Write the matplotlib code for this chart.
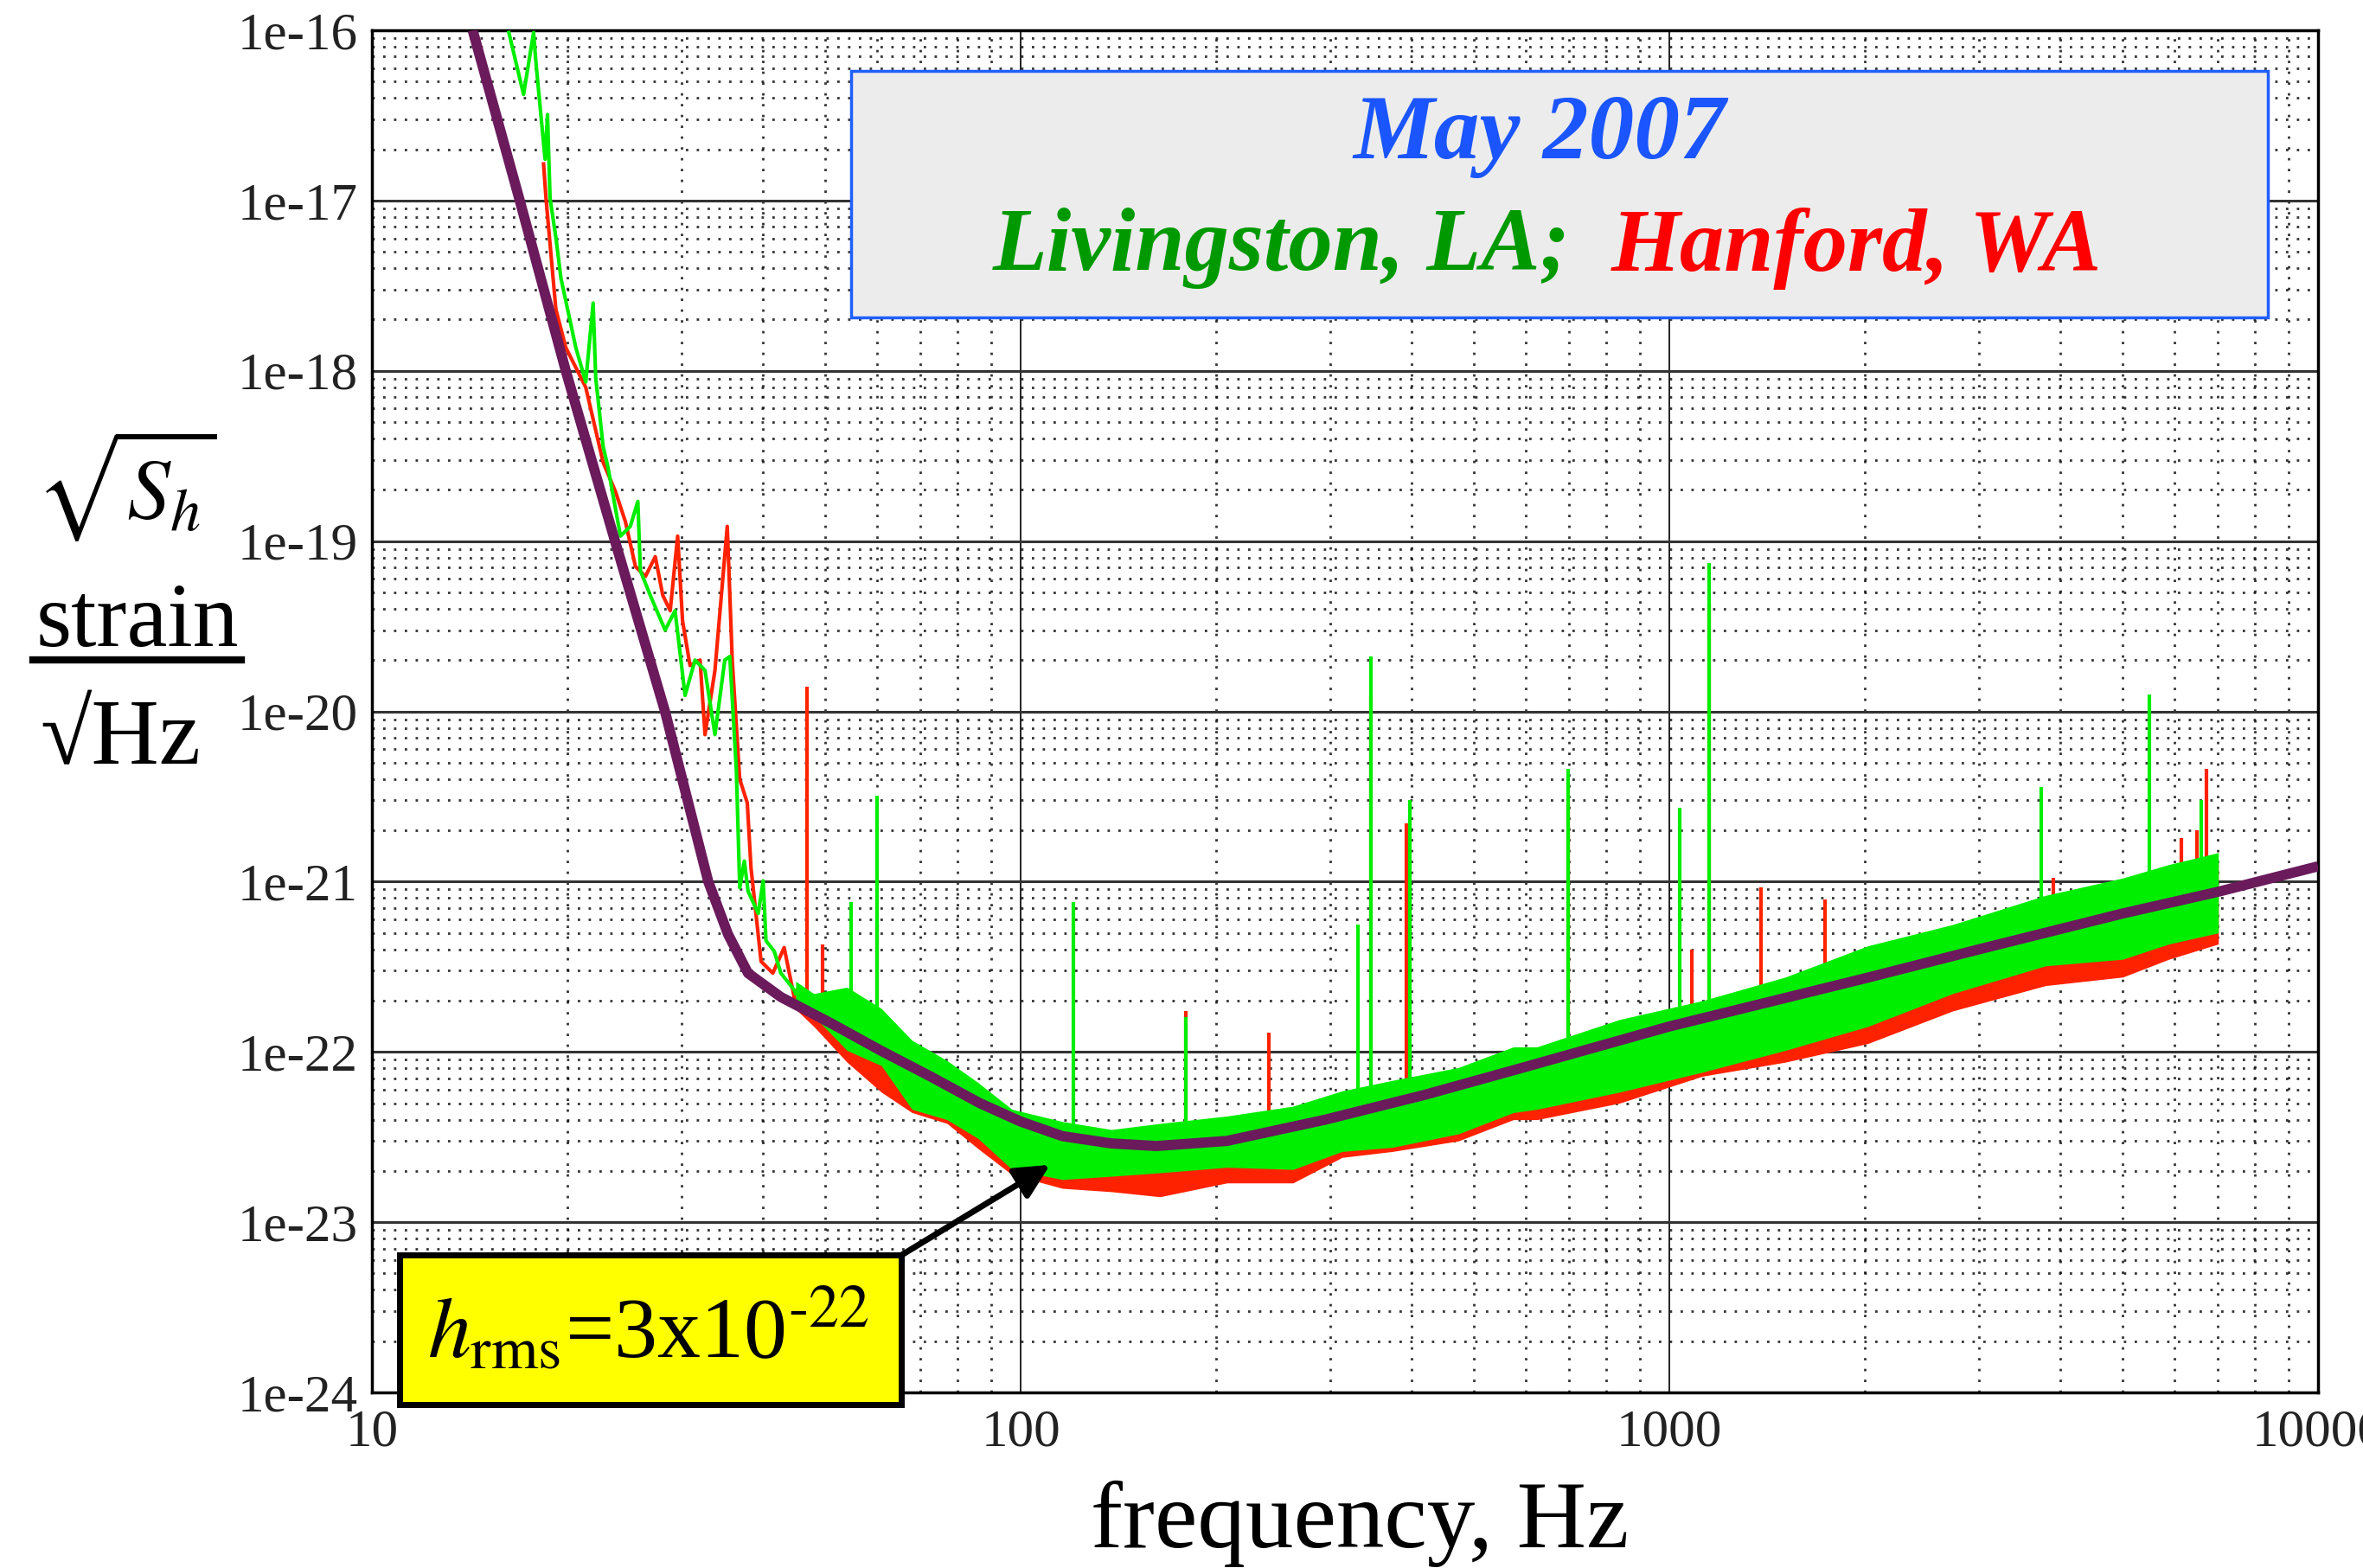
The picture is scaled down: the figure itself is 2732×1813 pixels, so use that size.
import numpy as np
import matplotlib
matplotlib.use("Agg")
import matplotlib.pyplot as plt
from matplotlib.patches import Rectangle
from matplotlib.lines import Line2D
from matplotlib.ticker import NullFormatter, LogLocator

plt.rcParams['font.family'] = ['Liberation Serif', 'DejaVu Serif']
plt.rcParams['mathtext.fontset'] = 'stix'

# design sensitivity curve (purple)
design_f = [14.3, 16.9, 19.9, 23.7, 28.3, 30.7, 33.0, 35.4, 38.0, 42.7, 50.9, 60.8, 72.5, 86.5,
            100, 116, 138, 162, 208, 295, 420, 575, 1000, 2000, 3000, 5000, 7000, 10000]
design_h = [1.0e-16, 1.0e-17, 1.0e-18, 1.0e-19, 1.0e-20, 2.95e-21, 1.0e-21, 4.9e-22, 2.9e-22,
            2.1e-22, 1.48e-22, 1.02e-22, 7.2e-23, 5.0e-23, 3.9e-23, 3.2e-23, 2.9e-23, 2.8e-23,
            3.0e-23, 4.0e-23, 5.6e-23, 7.8e-23, 1.41e-22, 2.7e-22, 4.0e-22, 6.5e-22, 8.7e-22, 1.23e-21]

# low-frequency traces (single lines before the band starts)
green_low_f = [16.26, 17.13, 17.75, 17.91, 18.49, 18.65, 18.82, 19.22, 19.56, 20.62, 21.36, 21.93,
               22.13, 22.72, 23.12, 24.16, 25.02, 25.70, 25.93, 26.86, 28.31, 29.33, 30.39, 31.48,
               32.62, 33.79, 34.99, 35.62, 36.45, 36.9, 37.5, 38.0, 39.4, 40.1, 40.5, 41.7, 42.7, 44.8, 45.0]
green_low_h = [9.7e-17, 4.2e-17, 9.7e-17, 6.3e-17, 1.75e-17, 3.2e-17, 1.03e-17, 6.0e-18, 3.5e-18,
               1.37e-18, 8.6e-19, 2.5e-18, 9.1e-19, 3.6e-19, 2.7e-19, 1.07e-19, 1.22e-19, 1.71e-19,
               6.7e-20, 4.8e-20, 3.0e-20, 3.9e-20, 1.24e-20, 2.0e-20, 1.74e-20, 7.3e-21, 2.0e-20,
               2.1e-20, 4.6e-21, 9.2e-22, 1.32e-21, 8.8e-22, 6.5e-22, 1.01e-21, 4.5e-22, 3.9e-22,
               2.9e-22, 2.3e-22, 2.2e-22]
red_low_f = [18.39, 18.55, 19.21, 19.90, 21.36, 22.72, 23.74, 24.59, 25.48, 26.40, 27.34, 28.08,
             28.83, 29.60, 30.12, 30.93, 32.05, 32.62, 33.79, 35.30, 35.93, 36.89, 37.9, 38.4,
             39.8, 41.5, 43.2, 45.0]
red_low_h = [1.64e-17, 1.03e-17, 2.3e-18, 1.37e-18, 8.0e-19, 2.9e-19, 1.95e-19, 1.30e-19, 7.1e-20,
             6.2e-20, 8.1e-20, 4.8e-20, 3.9e-20, 1.07e-19, 3.4e-20, 1.86e-20, 2.0e-20, 7.3e-21,
             1.74e-20, 1.22e-19, 2.0e-20, 4.0e-21, 2.9e-21, 1.21e-21, 3.4e-22, 2.9e-22, 4.1e-22, 1.9e-22]

# noise band envelopes
band_f = [45, 48, 54, 61, 68, 77, 86, 97, 116, 138, 164, 208, 263, 313, 374, 473, 575, 625,
          838, 1125, 1509, 2024, 2735, 3800, 5000, 5890, 7020]
green_hi = [2.6e-22, 2.2e-22, 2.4e-22, 1.8e-22, 1.17e-22, 8.9e-23, 6.6e-23, 4.6e-23, 3.9e-23,
            3.5e-23, 3.8e-23, 4.2e-23, 4.8e-23, 5.9e-23, 6.8e-23, 8.1e-23, 1.07e-22, 1.07e-22,
            1.55e-22, 2.0e-22, 2.75e-22, 4.2e-22, 5.6e-22, 8.3e-22, 1.05e-21, 1.26e-21, 1.48e-21]
green_lo = [2.0e-22, 1.62e-22, 1.02e-22, 8.3e-23, 4.6e-23, 4.0e-23, 3.1e-23, 2.04e-23, 1.78e-23,
            1.86e-23, 1.95e-23, 2.1e-23, 2.04e-23, 2.6e-23, 2.75e-23, 3.3e-23, 4.4e-23, 4.6e-23,
            5.8e-23, 7.6e-23, 1.02e-22, 1.41e-22, 2.2e-22, 3.2e-22, 3.5e-22, 4.3e-22, 5.0e-22]
red_hi = [2.4e-22, 2.0e-22, 2.1e-22, 1.6e-22, 1.0e-22, 8.0e-23, 6.0e-23, 4.2e-23, 3.5e-23,
          3.2e-23, 3.4e-23, 3.8e-23, 4.3e-23, 5.3e-23, 6.0e-23, 7.2e-23, 9.5e-23, 9.5e-23,
          1.38e-22, 1.8e-22, 2.45e-22, 3.7e-22, 5.0e-22, 7.4e-22, 9.3e-22, 1.12e-21, 1.3e-21]
red_lo = [1.78e-22, 1.41e-22, 8.7e-23, 5.8e-23, 4.4e-23, 3.8e-23, 2.7e-23, 1.9e-23, 1.58e-23,
          1.51e-23, 1.41e-23, 1.7e-23, 1.7e-23, 2.4e-23, 2.6e-23, 3.0e-23, 4.0e-23, 4.0e-23,
          5.0e-23, 7.2e-23, 8.7e-23, 1.12e-22, 1.74e-22, 2.45e-22, 2.75e-22, 3.5e-22, 4.3e-22]

# narrow lines (spikes)
green_spike_f = [54.8, 60.0, 120.6, 180, 331, 347, 398, 698, 1036, 1151, 3745, 5498, 6600]
green_spike_lo = [1.2e-22, 1.0e-22, 3.5e-23, 3.0e-23, 4.5e-23, 4.5e-23, 5.0e-23, 1.0e-22,
                  1.5e-22, 1.6e-22, 5.0e-22, 7.0e-22, 9.0e-22]
green_spike_hi = [7.6e-22, 3.2e-21, 7.6e-22, 1.6e-22, 5.6e-22, 2.1e-20, 3.0e-21, 4.6e-21,
                  2.7e-21, 7.4e-20, 3.6e-21, 1.26e-20, 3.0e-21]
red_spike_f = [46.8, 49.5, 60.0, 180, 241, 347, 393, 698, 1083, 1151, 1383, 1738, 3912, 6157, 6501, 6721]
red_spike_lo = [1.6e-22, 1.4e-22, 9.0e-23, 2.5e-23, 2.5e-23, 4.0e-23, 4.0e-23, 9.0e-23, 1.3e-22,
                1.4e-22, 1.6e-22, 2.0e-22, 4.0e-22, 7.0e-22, 7.0e-22, 7.5e-22]
red_spike_hi = [1.4e-20, 4.3e-22, 5.6e-22, 1.74e-22, 1.3e-22, 1.23e-20, 2.2e-21, 3.0e-21, 4.0e-22,
                4.3e-20, 9.3e-22, 7.9e-22, 1.05e-21, 1.8e-21, 2.0e-21, 4.6e-21]

ytick_vals = [1e-24, 1e-23, 1e-22, 1e-21, 1e-20, 1e-19, 1e-18, 1e-17, 1e-16]
ytick_labels = ['1e-24', '1e-23', '1e-22', '1e-21', '1e-20', '1e-19', '1e-18', '1e-17', '1e-16']
xtick_vals = [10, 100, 1000, 10000]
xtick_labels = ['10', '100', '1000', '10000']

GREEN = '#00ee00'
RED = '#ff2200'
PURPLE = '#6b1a5c'

fig = plt.figure(figsize=(27.32, 18.13), dpi=100)
ax = fig.add_axes([430 / 2732, 1 - 1610 / 1813, 2250 / 2732, 1575 / 1813])
ax.set_xscale('log')
ax.set_yscale('log')
ax.set_xlim(10, 10000)
ax.set_ylim(1e-24, 1e-16)

# red (Hanford) underneath
ax.fill_between(band_f, red_lo, red_hi, color=RED, lw=0, zorder=2)
ax.plot(red_low_f, red_low_h, color=RED, lw=3, zorder=2)
ax.vlines(red_spike_f, red_spike_lo, red_spike_hi, color=RED, lw=3, zorder=2)

# green (Livingston) on top
ax.fill_between(band_f, green_lo, green_hi, color=GREEN, lw=0, zorder=3)
ax.plot(green_low_f, green_low_h, color=GREEN, lw=3, zorder=3)
ax.vlines(green_spike_f, green_spike_lo, green_spike_hi, color=GREEN, lw=3, zorder=3)

# design curve
ax.plot(design_f, design_h, color=PURPLE, lw=8.5, solid_capstyle='butt', zorder=5)

ax.set_yticks(ytick_vals)
ax.set_yticklabels(ytick_labels)
ax.set_xticks(xtick_vals)
ax.set_xticklabels(xtick_labels)
ax.xaxis.set_minor_locator(LogLocator(base=10, subs=np.arange(2, 10)))
ax.yaxis.set_minor_locator(LogLocator(base=10, subs=np.arange(2, 10)))
ax.xaxis.set_minor_formatter(NullFormatter())
ax.yaxis.set_minor_formatter(NullFormatter())
ax.tick_params(which='both', length=0, labelsize=44, labelcolor='#222222')
ax.tick_params(axis='y', pad=12)
ax.tick_params(axis='x', pad=14)

ax.set_axisbelow(True)
ax.grid(which='major', axis='y', color='#333333', lw=2.2, ls='-')
ax.grid(which='major', axis='x', color='#222222', lw=1.4, ls='-')
ax.grid(which='minor', color='#111111', lw=2.0, ls=(0, (1, 3.5)), alpha=0.85)
for s in ax.spines.values():
    s.set_linewidth(2.5)
    s.set_color('black')

# title box
ax.add_patch(Rectangle((0.246, 0.789), 0.728, 0.181, transform=ax.transAxes,
                       facecolor='#ececec', edgecolor='#1f5fff', lw=2.5, zorder=6))
ax.text(0.600, 0.922, 'May 2007', transform=ax.transAxes, ha='center', va='center',
        fontsize=76, fontweight='bold', fontstyle='italic', color='#1a55ff', zorder=7)
ax.text(0.616, 0.840, 'Livingston, LA;', transform=ax.transAxes, ha='right', va='center',
        fontsize=74, fontweight='bold', fontstyle='italic', color='#009900', zorder=7)
ax.text(0.637, 0.840, 'Hanford, WA', transform=ax.transAxes, ha='left', va='center',
        fontsize=74, fontweight='bold', fontstyle='italic', color='#ff0000', zorder=7)

# h_rms box and arrow
ax.add_patch(Rectangle((0.0142, -0.0089), 0.258, 0.110, transform=ax.transAxes,
                       facecolor='#ffff00', edgecolor='black', lw=5, zorder=10, clip_on=False))
ax.text(0.142, 0.045, r'$h_{\mathrm{rms}}$=3x10$^{\text{-22}}$', transform=ax.transAxes,
        ha='center', va='center', fontsize=72, zorder=11, clip_on=False)
ax.annotate('', xy=(111, 2.17e-23), xytext=(65.5, 6.4e-24),
            arrowprops=dict(arrowstyle='-|>', lw=5, color='black', mutation_scale=60,
                            shrinkA=0, shrinkB=0), zorder=9, annotation_clip=False)

# axis labels
fig.text(0.5754, 0.0132, 'frequency, Hz', ha='center', va='baseline', fontsize=80)
fig.text(0.0534, 0.669, r'$\sqrt{S_h}$', ha='center', va='baseline', fontsize=72)
fig.text(0.0580, 0.588, 'strain', ha='center', va='baseline', fontsize=76)
fig.add_artist(Line2D([0.0139, 0.1021], [0.579, 0.579], transform=fig.transFigure,
                      color='black', lw=6))
fig.text(0.0511, 0.513, '\u221aHz', ha='center', va='baseline', fontsize=78)

fig.savefig('out.png', dpi=100)
